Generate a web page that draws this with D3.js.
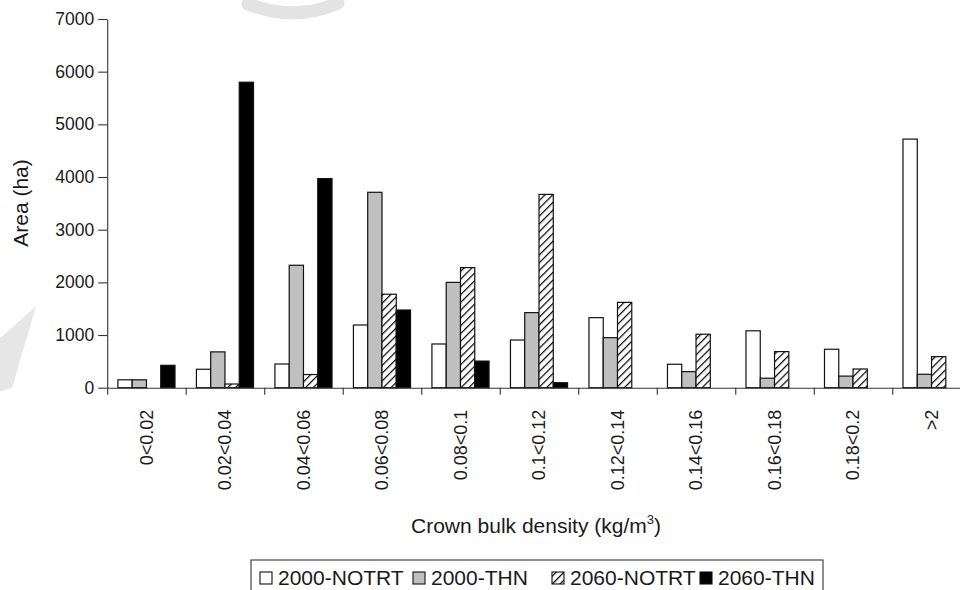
<!DOCTYPE html>
<html>
<head>
<meta charset="utf-8">
<script src="https://cdn.jsdelivr.net/npm/d3@7"></script>
<style>
  html, body { margin: 0; padding: 0; background: #fff; }
  svg { display: block; font-family: "Liberation Sans", Arial, Helvetica, sans-serif; }
</style>
</head>
<body>
<svg id="chart" width="960" height="590"></svg>
<script>
// ---- data ----
const categories = ["0<0.02", "0.02<0.04", "0.04<0.06", "0.06<0.08", "0.08<0.1", "0.1<0.12",
                    "0.12<0.14", "0.14<0.16", "0.16<0.18", "0.18<0.2", ">2"];
const seriesNames = ["2000-NOTRT", "2000-THN", "2060-NOTRT", "2060-THN"];
const notrt2000 = [150, 350, 450, 1190, 830, 905, 1330, 445, 1080, 730, 4720];
const thn2000   = [150, 680, 2325, 3710, 2000, 1425, 950, 305, 180, 220, 255];
const notrt2060 = [0, 70, 250, 1775, 2280, 3670, 1620, 1015, 685, 355, 590];
const thn2060   = [425, 5800, 3970, 1475, 505, 95, 0, 0, 0, 0, 0];
const yTicks = [0, 1000, 2000, 3000, 4000, 5000, 6000, 7000];

const seriesValues = [notrt2000, thn2000, notrt2060, thn2060];
const fills = ["#ffffff", "#c0c0c0", "url(#hatch)", "#000000"];

// ---- layout ----
const plotLeft = 107.2, plotRight = 970.8, plotTop = 19, plotBottom = 387.7;
const svg = d3.select("#chart");

// defs: hatch pattern
const defs = svg.append("defs");
const pat = defs.append("pattern").attr("id", "hatch")
  .attr("patternUnits", "userSpaceOnUse").attr("width", 5.5).attr("height", 5.5)
  .attr("patternTransform", "rotate(45)");
pat.append("rect").attr("width", 5.5).attr("height", 5.5).attr("fill", "#fff");
pat.append("line").attr("x1", 0).attr("y1", 0).attr("x2", 0).attr("y2", 5.5)
  .attr("stroke", "#000").attr("stroke-width", 2.4);

// watermark-like light shapes
svg.append("path").attr("d", "M248,4 Q295,22 338,3")
  .attr("fill", "none").attr("stroke", "#e3e3e3").attr("stroke-width", 13).attr("stroke-linecap", "round");
svg.append("path").attr("d", "M36,306 L12,388 L-2,392 L-2,340 Z")
  .attr("fill", "#e6e6e6");

const x = d3.scaleBand().domain(categories).range([plotLeft, plotRight]).padding(0);
const xInner = d3.scaleBand().domain(d3.range(seriesNames.length))
  .range([0, x.bandwidth()]).paddingInner(0).paddingOuter(0.75);
const y = d3.scaleLinear().domain([0, 7000]).range([plotBottom, plotTop]);

// bars
const gBars = svg.append("g");
seriesValues.forEach((vals, si) => {
  gBars.selectAll(null)
    .data(categories.map((c, i) => ({ c, v: vals[i] })).filter(d => d.v > 0))
    .enter().append("rect")
    .attr("x", d => x(d.c) + xInner(si))
    .attr("y", d => y(d.v))
    .attr("width", xInner.bandwidth())
    .attr("height", d => y(0) - y(d.v))
    .attr("fill", fills[si])
    .attr("stroke", "#111")
    .attr("stroke-width", 1.2);
});

// y axis
const yAxis = svg.append("g").attr("transform", `translate(${plotLeft},0)`)
  .call(d3.axisLeft(y).tickValues(yTicks).tickFormat(d3.format("d"))
    .tickSize(9).tickSizeOuter(0).tickPadding(4));
yAxis.selectAll("path,line").attr("stroke", "#333").attr("stroke-width", 1.1);
yAxis.selectAll("text").attr("font-size", "17.5px").attr("fill", "#1a1a1a")
  .attr("font-family", "Liberation Sans, Arial, sans-serif");

// x axis: boundary ticks
const xEdge = d3.scaleLinear().domain([0, categories.length]).range([plotLeft, plotRight]);
const xAxis = svg.append("g").attr("transform", `translate(0,${plotBottom})`)
  .call(d3.axisBottom(xEdge).tickValues(d3.range(categories.length + 1))
    .tickFormat("").tickSize(7).tickSizeOuter(0));
xAxis.selectAll("path,line").attr("stroke", "#333").attr("stroke-width", 1.1);

// x labels (rotated)
const xLab = svg.append("g").attr("transform", `translate(0,${plotBottom})`)
  .call(d3.axisBottom(x).tickSize(0).tickSizeOuter(0));
xLab.select(".domain").remove();
xLab.selectAll("text")
  .attr("transform", "rotate(-90)")
  .attr("x", -22).attr("y", 0).attr("dy", "0.35em")
  .attr("text-anchor", "end")
  .attr("font-size", "18px").attr("fill", "#1a1a1a")
  .attr("font-family", "Liberation Sans, Arial, sans-serif");

// axis titles
svg.append("text").attr("transform", "translate(28,203) rotate(-90)")
  .attr("text-anchor", "middle").attr("font-size", "21px").attr("fill", "#1a1a1a")
  .text("Area (ha)");

const xt = svg.append("text").attr("x", 536).attr("y", 533)
  .attr("text-anchor", "middle").attr("font-size", "21px").attr("fill", "#1a1a1a");
xt.append("tspan").text("Crown bulk density (kg/m");
xt.append("tspan").attr("font-size", "13px").attr("dy", "-9").text("3");
xt.append("tspan").attr("dy", "9").text(")");

// legend
const legendX = [260, 413, 552, 700];
svg.append("rect").attr("x", 251).attr("y", 560).attr("width", 572).attr("height", 40)
  .attr("fill", "#fff").attr("stroke", "#444").attr("stroke-width", 1.2);
const lg = svg.append("g").selectAll("g").data(seriesNames).enter().append("g")
  .attr("transform", (d, i) => `translate(${legendX[i]},0)`);
lg.append("rect").attr("x", 0).attr("y", 572).attr("width", 12).attr("height", 12)
  .attr("fill", (d, i) => fills[i]).attr("stroke", "#111").attr("stroke-width", 1.1);
lg.append("text").attr("x", 18).attr("y", 584.5).attr("font-size", "21px")
  .attr("fill", "#1a1a1a").text(d => d);
</script>
</body>
</html>
